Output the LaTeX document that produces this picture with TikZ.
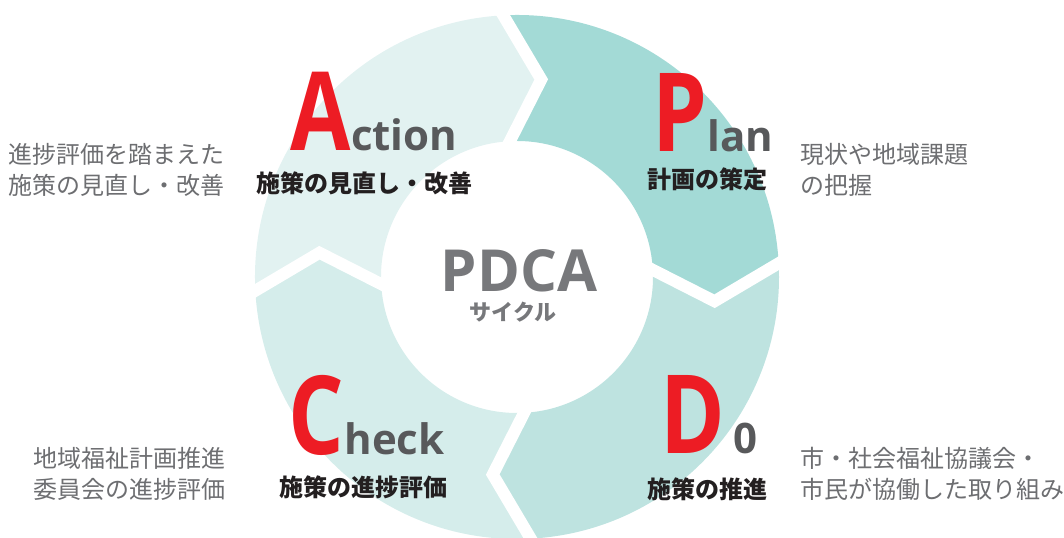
\documentclass[tikz,border=0pt]{standalone}
\usepackage{graphicx}
\usepackage{fontspec}
\setmainfont{Open Sans}
\newfontfamily\jpfont{Noto Sans CJK JP}
\usetikzlibrary{calc}
\definecolor{planteal}{HTML}{A3DAD6}
\definecolor{doteal}{HTML}{BEE3E0}
\definecolor{checkteal}{HTML}{D5EDEB}
\definecolor{actteal}{HTML}{E2F2F1}
\definecolor{pdcared}{HTML}{ED1C24}
\definecolor{restgray}{HTML}{58595B}
\definecolor{labeldark}{HTML}{231F20}
\definecolor{sidegray}{HTML}{6D6E71}
\definecolor{centergray}{HTML}{77787B}
\def\ringpart[#1](#2){\fill[#1] (#2:262) arc[start angle=#2, end angle={#2-90}, radius=262] -- ({#2-100}:199) -- ({#2-90}:136) arc[start angle={#2-90}, end angle=#2, radius=136] -- ({#2-10}:199) -- cycle;}
\tikzset{
	bigletter/.style={inner sep=0, anchor=base west, text=pdcared, font=\fontsize{82}{82}\selectfont\bfseries},
	restword/.style={inner sep=0, text depth=0, anchor=base west, text=restgray, font=\fontsize{31.5}{31.5}\selectfont\bfseries},
	steplabel/.style={inner sep=0, anchor=base, text=labeldark, font=\jpfont\fontsize{18}{18}\selectfont\bfseries},
	sidenote/.style={inner sep=0, text=sidegray, font=\jpfont\fontsize{18}{23.25}\selectfont},
	sep/.style={white, line width=9pt, line join=miter}
}

\begin{document}
\begin{tikzpicture}[x=0.75pt, y=0.75pt]
			%%%%% START %%%%%
			\useasboundingbox (-517,-261) rectangle (547,277);
			
			\ringpart[planteal](93)
			\ringpart[doteal](3)
			\ringpart[checkteal](-87)
			\ringpart[actteal](183)
			
			\foreach \a in {93,3,-87,183}
				\draw[sep] ($({\a-10}:199)!1.35!(\a:262)$) -- ({\a-10}:199) -- ($({\a-10}:199)!1.35!(\a:136)$);
			
			\node[text=centergray, font=\fontsize{43.5}{43.5}\selectfont\bfseries, anchor=base, inner sep=0, text depth=0] (pdca) at (2,-15) {PDCA};
			\node[text=centergray, font=\jpfont\fontsize{16.5}{16.5}\selectfont\bfseries, anchor=base, inner sep=0] (cycle) at (-4,-44) {サイクル};
			
			\node[bigletter] (bigA) at (-227,126) {\scalebox{0.8}[1]{A}};
			\node[restword] (ction) at (bigA.base east) {ction};
			\node[steplabel] (actlabel) at (-152,84) {施策の見直し・改善};
			
			\node[bigletter] (bigP) at (135,125) {\scalebox{0.8}[1]{P}};
			\node[restword] (lan) at (bigP.base east) {lan};
			\node[steplabel] (planlabel) at (190.5,88) {計画の策定};
			
			\node[bigletter] (bigC) at (-229,-178) {\scalebox{0.8}[1]{C}};
			\node[restword] (heck) at (bigC.base east) {heck};
			\node[steplabel] (checklabel) at (-153.5,-220) {施策の進捗評価};
			
			\node[bigletter] (bigD) at (143,-177) {\scalebox{0.8}[1]{D}};
			\node[restword] (zero) at ([xshift=6]bigD.base east) {0};
			\node[steplabel] (dolabel) at (191,-222) {施策の推進};
			
			% base of a two-line node is its last line
			\node[sidenote, align=right, anchor=base east] (actnote) at (-292,82) {進捗評価を踏まえた\\施策の見直し・改善};
			\node[sidenote, align=left, anchor=base west] (plannote) at (283,82) {現状や地域課題\\の把握};
			\node[sidenote, align=right, anchor=base east] (checknote) at (-291,-222) {地域福祉計画推進\\委員会の進捗評価};
			\node[sidenote, align=left, anchor=base west] (donote) at (283,-222) {市・社会福祉協議会・\\市民が協働した取り組み};
			
			%%%%% END %%%%%
\end{tikzpicture}
\end{document}
